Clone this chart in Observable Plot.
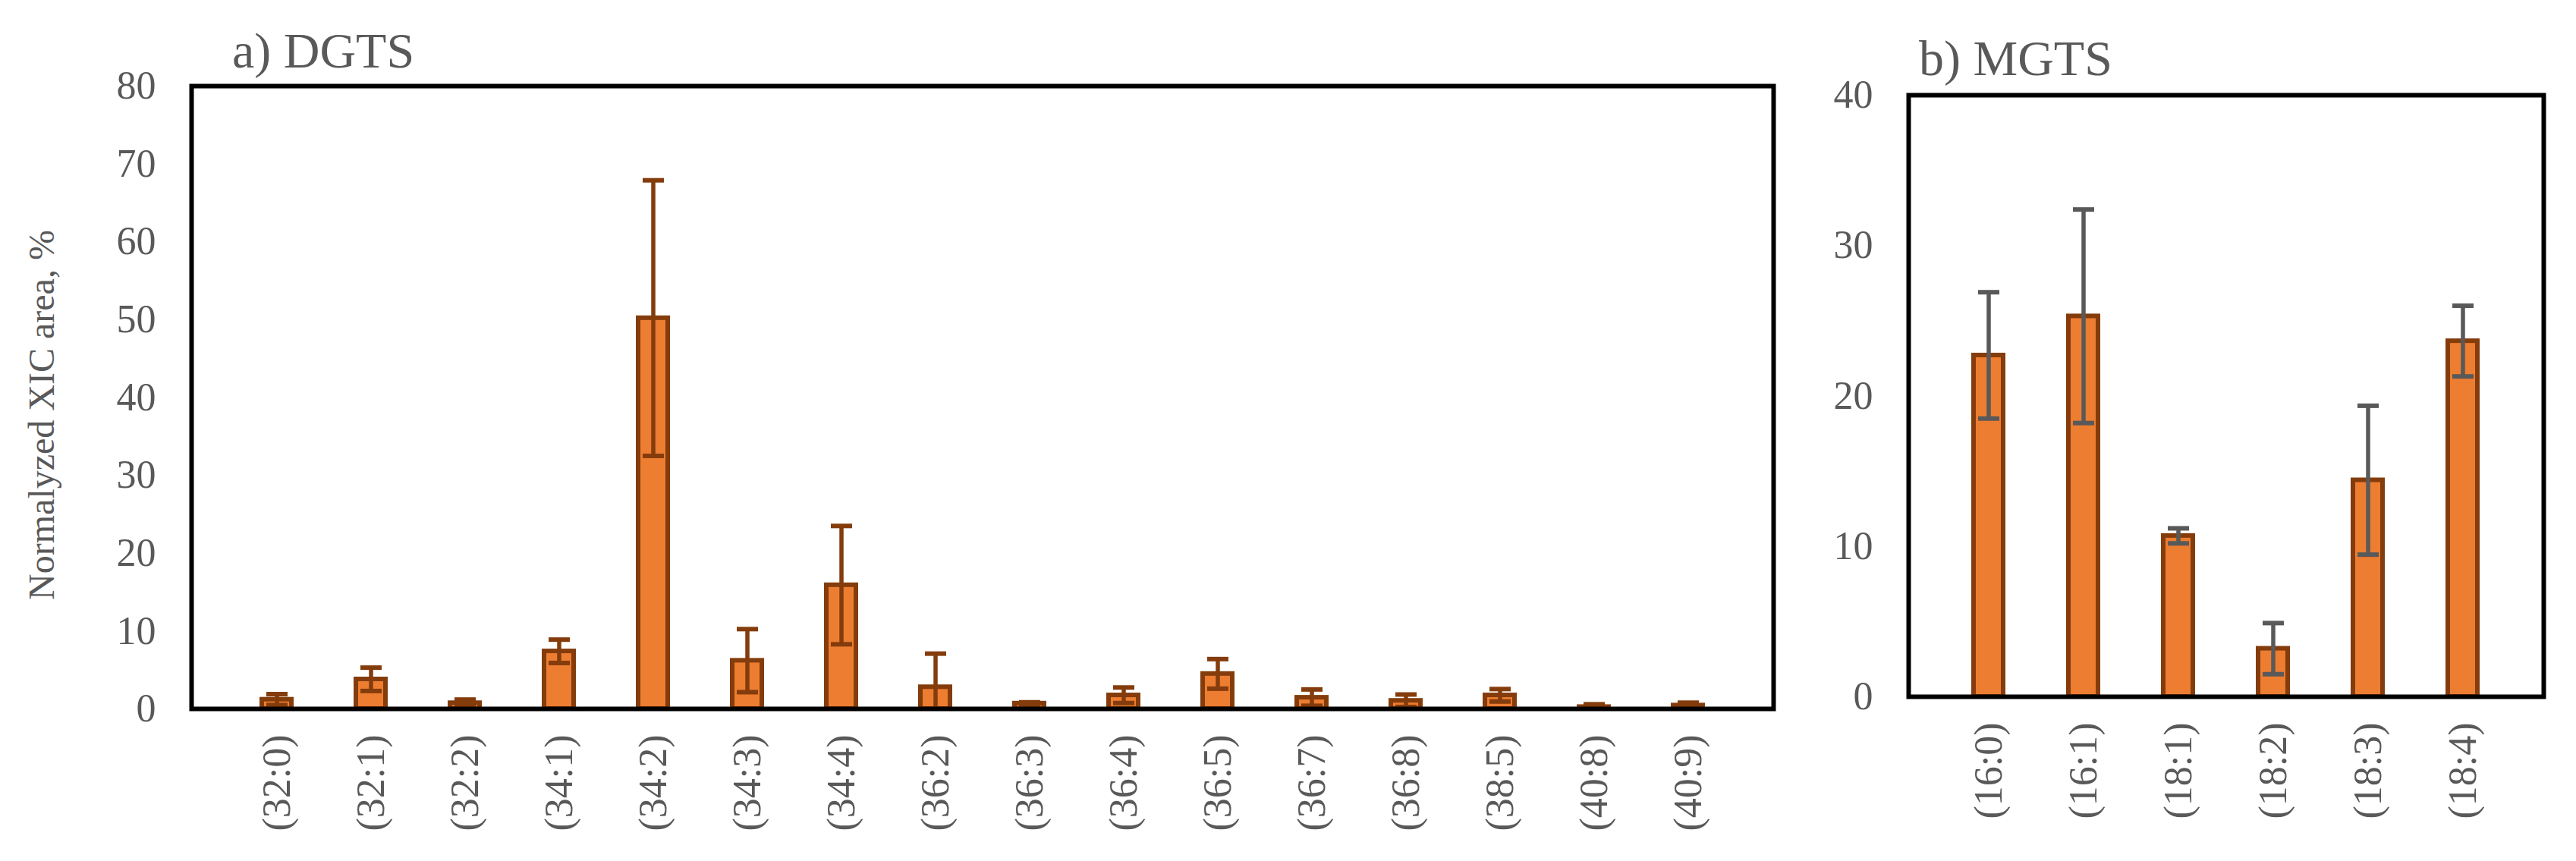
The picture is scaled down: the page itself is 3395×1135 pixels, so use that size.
<!DOCTYPE html>
<html>
<head>
<meta charset="utf-8">
<script src="https://cdn.jsdelivr.net/npm/d3@7"></script>
<script src="https://cdn.jsdelivr.net/npm/@observablehq/plot@0.6"></script>
<style>
  html, body { margin: 0; padding: 0; background: #fff; }
  #wrap { position: relative; width: 3395px; height: 1135px; overflow: hidden; background: #fff; }
  .panel { position: absolute; top: 0; }
  .ttl { position: absolute; font-family: "Liberation Serif", serif; font-size: 66px; color: #595959; white-space: nowrap; line-height: 1; }
</style>
</head>
<body>
<div id="wrap">
  <div class="ttl" id="ta">a) DGTS</div>
  <div class="ttl" id="tb">b) MGTS</div>
</div>
<script>
// ---- Data ----
const dgtsLabels = ["(32:0)","(32:1)","(32:2)","(34:1)","(34:2)","(34:3)","(34:4)","(36:2)","(36:3)","(36:4)","(36:5)","(36:7)","(36:8)","(38:5)","(40:8)","(40:9)"];
const dgtsMean = [1.2, 3.8, 0.75, 7.4, 50.2, 6.2, 15.9, 2.8, 0.7, 1.75, 4.5, 1.45, 1.05, 1.75, 0.25, 0.45];
const dgtsErr  = [0.7, 1.5, 0.45, 1.5, 17.7, 4.05, 7.6, 4.3, 0.15, 1.0, 1.9, 1.05, 0.8, 0.8, 0.35, 0.35];
const dgtsTicks = [0, 10, 20, 30, 40, 50, 60, 70, 80];

const mgtsLabels = ["(16:0)","(16:1)","(18:1)","(18:2)","(18:3)","(18:4)"];
const mgtsMean = [22.7, 25.3, 10.7, 3.2, 14.4, 23.65];
const mgtsErr  = [4.2, 7.1, 0.5, 1.7, 4.95, 2.35];
const mgtsTicks = [0, 10, 20, 30, 40];

const yLabel = "Normalyzed XIC area, %";

// ---- Style ----
const FONT = "Liberation Serif, serif";
const TEXT = "#595959";
const BAR_FILL = "#ED7D31";
const BAR_STROKE = "#843C0C";

// horizontal-line symbol for error-bar caps
const capSymbol = {
  draw(context, size) {
    const r = Math.sqrt(size / Math.PI);
    context.moveTo(-r, 0);
    context.lineTo(r, 0);
  }
};

function rows(labels, mean, err) {
  return labels.map((c, i) => ({c, v: mean[i], e: err[i], lo: Math.max(0, mean[i] - err[i]), hi: mean[i] + err[i]}));
}

function panel({data, labels, ticks, domain, width, height, margins, padding, errColor, withLabel}) {
  const marks = [
    Plot.barY(data, {x: "c", y: "v", fill: BAR_FILL, stroke: BAR_STROKE, strokeWidth: 6}),
    Plot.ruleX(data, {x: "c", y1: "lo", y2: "hi", stroke: errColor, strokeWidth: 5.5}),
    Plot.dot(data, {x: "c", y: "hi", symbol: capSymbol, r: 14, fill: "none", stroke: errColor, strokeWidth: 6}),
    Plot.dot(data.filter(d => d.v - d.e >= 0), {x: "c", y: "lo", symbol: capSymbol, r: 14, fill: "none", stroke: errColor, strokeWidth: 6}),
    Plot.axisY({ticks, tickSize: 0, tickPadding: 47, fill: TEXT, fontSize: 52, label: null}),
    Plot.axisX({tickSize: 0, tickPadding: 34, tickRotate: -90, fill: TEXT, fontSize: 52, label: null}),
    Plot.frame({stroke: "#000", strokeWidth: 6})
  ];
  if (withLabel) {
    marks.push(Plot.text([yLabel], {text: d => d, frameAnchor: "left", rotate: -90, dx: -197, dy: 23,
      fill: TEXT, fontSize: 48, textAnchor: "middle", lineAnchor: "middle"}));
  }
  return Plot.plot({
    width, height,
    marginLeft: margins[0], marginRight: margins[1], marginTop: margins[2], marginBottom: margins[3],
    style: {fontFamily: FONT, fontSize: "52px", color: TEXT, background: "transparent", overflow: "visible"},
    x: {type: "band", domain: labels, padding, align: 0.5, label: null},
    y: {domain, label: null},
    marks
  });
}

const wrap = document.getElementById("wrap");

const a = panel({
  data: rows(dgtsLabels, dgtsMean, dgtsErr), labels: dgtsLabels, ticks: dgtsTicks, domain: [0, 80],
  width: 2400, height: 1135, margins: [252, 63, 113, 201], padding: 0.685,
  errColor: BAR_STROKE, withLabel: true
});
a.classList.add("panel");
a.style.left = "0px";
wrap.appendChild(a);

const b = panel({
  data: rows(mgtsLabels, mgtsMean, mgtsErr), labels: mgtsLabels, ticks: mgtsTicks, domain: [0, 40],
  width: 995, height: 1135, margins: [115, 43, 125, 217], padding: 0.685,
  errColor: "#595959", withLabel: false
});
b.classList.add("panel");
b.style.left = "2400px";
wrap.appendChild(b);

// titles
const ta = document.getElementById("ta");
ta.style.left = "306px"; ta.style.top = "34px";
const tb = document.getElementById("tb");
tb.style.left = "2529px"; tb.style.top = "44px";
</script>
</body>
</html>
